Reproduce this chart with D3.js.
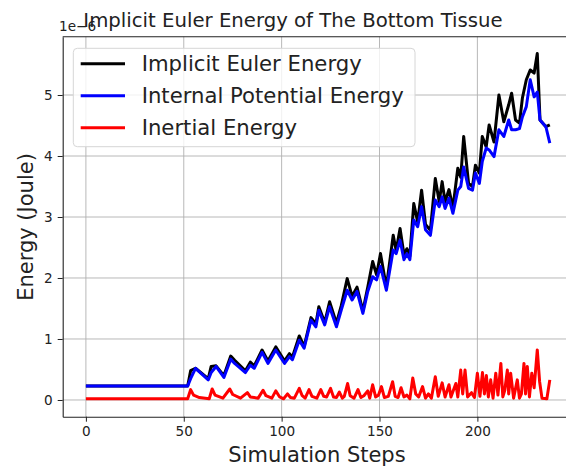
<!DOCTYPE html>
<html>
<head>
<meta charset="utf-8">
<script src="https://cdn.jsdelivr.net/npm/d3@7"></script>
<style>
body { margin: 0; background: #fff; }
svg { font-family: "DejaVu Sans", sans-serif; }
.grid line { stroke: #b0b0b0; stroke-width: 0.9; }
</style>
</head>
<body>
<svg width="566" height="466"></svg>
<script>
// values in units of 1e-6 Joule

// shared vertices for the implicit euler and internal potential curves
var steps = [0, 52, 53.5, 56, 62.5, 64, 66.5, 70.5, 74, 76, 81.5, 84, 86, 90, 93, 97, 101.5, 104, 105.5,
    109, 111.5, 115, 117.5, 119, 122, 124.5, 128, 130.5, 133.5, 136, 138.5, 141.5, 144, 146.5, 148.5,
    150.5, 153.5, 157, 158.5, 160.5, 162.5, 164, 165.5, 167.5, 169.5, 171.5, 173.5, 176, 178.5, 180.5,
    182, 183.5, 185.5, 187.5, 190, 191.5, 193, 195.5, 197.5, 199, 201, 202.5, 204.5, 206, 208.5, 211,
    213.5, 216, 217.5, 219.5, 221.5, 223, 225, 227, 229, 230.6, 232, 235, 237];

var implicitEuler = [0.23, 0.23, 0.48, 0.52, 0.35, 0.55, 0.56, 0.40, 0.72, 0.65, 0.48, 0.62, 0.56, 0.82,
    0.64, 0.87, 0.64, 0.76, 0.70, 1.05, 0.88, 1.35, 1.25, 1.53, 1.27, 1.61, 1.26, 1.55, 1.99, 1.70, 1.85,
    1.46, 1.85, 2.27, 2.05, 2.40, 1.85, 2.70, 2.45, 2.81, 2.38, 2.48, 2.36, 3.22, 2.92, 3.44, 2.88, 2.78,
    3.63, 3.25, 3.58, 3.25, 3.45, 3.15, 3.80, 3.65, 4.32, 3.55, 3.50, 3.85, 3.72, 4.32, 4.15, 4.51, 4.23,
    5.00, 4.56, 4.84, 5.03, 4.59, 4.54, 4.95, 5.25, 5.41, 5.36, 5.68, 4.59, 4.48, 4.51];

var internalPotential = [0.23, 0.23, 0.35, 0.52, 0.33, 0.45, 0.55, 0.37, 0.67, 0.60, 0.45, 0.57, 0.52, 0.78,
    0.60, 0.82, 0.60, 0.71, 0.66, 0.98, 0.85, 1.31, 1.20, 1.47, 1.23, 1.53, 1.20, 1.48, 1.80, 1.64, 1.78,
    1.42, 1.78, 2.02, 1.97, 2.19, 1.80, 2.46, 2.40, 2.62, 2.30, 2.40, 2.30, 2.95, 2.84, 3.17, 2.79, 2.70,
    3.28, 3.17, 3.33, 3.14, 3.31, 3.06, 3.44, 3.50, 3.82, 3.47, 3.44, 3.72, 3.55, 3.91, 4.13, 4.10, 3.99,
    4.43, 4.32, 4.59, 4.43, 4.43, 4.45, 4.64, 4.81, 5.25, 4.97, 5.05, 4.59, 4.48, 4.21];

// inertial energy has its own vertices
var inertialSteps = [0, 52, 53.5, 55, 58, 63, 64.5, 66, 70, 73.5, 75, 79, 82.5, 84, 88, 90.5, 92, 95, 97,
    99, 101, 103, 104.5, 106.5, 109, 110.5, 112, 114, 115.5, 118, 120, 121.5, 123, 125, 126.5, 128,
    129.5, 131, 132, 133.7, 135, 137, 139, 140.5, 142, 144, 145, 146.5, 148, 149.5, 151, 152.5, 154.5,
    156.7, 158, 159.5, 161, 162.5, 164, 165.5, 167, 168.5, 170, 172, 173.5, 175, 176.5, 178.5, 180, 182,
    183.5, 185.5, 186.5, 189, 190, 191.5, 192.5, 193.7, 195, 197, 198.5, 200, 201.3, 202.6, 203.6, 204.6,
    205.6, 206.8, 208, 209.4, 210.5, 212, 213, 214, 215.3, 216, 217, 218.5, 220.4, 221.5, 222.5, 223.8,
    224.6, 225.5, 226.6, 227.8, 229, 230.6, 231.8, 233, 235.5, 237];

var inertial = [0.02, 0.02, 0.17, 0.08, 0.04, 0.02, 0.18, 0.08, 0.03, 0.18, 0.09, 0.03, 0.12, 0.05, 0.03,
    0.16, 0.07, 0.03, 0.15, 0.05, 0.02, 0.10, 0.04, 0.03, 0.19, 0.07, 0.03, 0.17, 0.06, 0.03, 0.17, 0.06,
    0.05, 0.19, 0.05, 0.04, 0.13, 0.03, 0.06, 0.27, 0.07, 0.03, 0.17, 0.04, 0.07, 0.15, 0.03, 0.25, 0.05,
    0.08, 0.22, 0.04, 0.06, 0.30, 0.06, 0.04, 0.20, 0.05, 0.08, 0.02, 0.36, 0.10, 0.05, 0.22, 0.03, 0.10,
    0.03, 0.38, 0.06, 0.28, 0.05, 0.25, 0.05, 0.27, 0.05, 0.49, 0.10, 0.49, 0.05, 0.12, 0.04, 0.44, 0.06,
    0.45, 0.10, 0.40, 0.05, 0.33, 0.03, 0.44, 0.08, 0.60, 0.05, 0.16, 0.49, 0.10, 0.44, 0.03, 0.33, 0.03,
    0.10, 0.60, 0.10, 0.55, 0.05, 0.44, 0.20, 0.82, 0.30, 0.03, 0.02, 0.33];

var xTicks = [0, 50, 100, 150, 200];
var yTicks = [0, 1, 2, 3, 4, 5];
var seriesNames = ["Implicit Euler Energy", "Internal Potential Energy", "Inertial Energy"];
var seriesColors = ["#000000", "#0000ff", "#ff0000"];

var svg = d3.select("svg");
// plot box (right spine falls outside the 566px window, as in the reference)
var plotLeft = 62.7, plotRight = 573, plotTop = 36.7, plotBottom = 416.7;

var x = d3.scaleLinear().domain([-11.85, 248.85]).range([plotLeft, plotRight]);
var y = d3.scaleLinear().domain([-0.274, 5.956]).range([plotBottom, plotTop]);

// grid
var grid = svg.append("g").attr("class", "grid");
grid.selectAll(".gx").data(xTicks).enter().append("line")
    .attr("x1", function(d) { return x(d); }).attr("x2", function(d) { return x(d); })
    .attr("y1", plotTop).attr("y2", plotBottom);
grid.selectAll(".gy").data(yTicks).enter().append("line")
    .attr("x1", plotLeft).attr("x2", plotRight)
    .attr("y1", function(d) { return y(d); }).attr("y2", function(d) { return y(d); });

// lines
var plot = svg.append("g");
function drawLine(xs, ys, color) {
    var pts = xs.map(function(s, i) { return [s, ys[i]]; });
    plot.append("path")
        .datum(pts)
        .attr("fill", "none")
        .attr("stroke", color)
        .attr("stroke-width", 3)
        .attr("stroke-linejoin", "round")
        .attr("d", d3.line().x(function(d) { return x(d[0]); }).y(function(d) { return y(d[1]); }));
}
drawLine(steps, implicitEuler, seriesColors[0]);
drawLine(steps, internalPotential, seriesColors[1]);
drawLine(inertialSteps, inertial, seriesColors[2]);

// axes
var xAxis = svg.append("g")
    .attr("transform", "translate(0," + plotBottom + ")")
    .call(d3.axisBottom(x).tickValues(xTicks).tickFormat(d3.format("d"))
        .tickSize(5).tickSizeOuter(0).tickPadding(5));
var yAxis = svg.append("g")
    .attr("transform", "translate(" + plotLeft + ",0)")
    .call(d3.axisLeft(y).tickValues(yTicks).tickFormat(d3.format("d"))
        .tickSize(5).tickSizeOuter(0).tickPadding(5));
[xAxis, yAxis].forEach(function(a) {
    a.select(".domain").attr("stroke", "#222").attr("stroke-width", 1.1);
    a.selectAll(".tick line").attr("stroke", "#222");
    a.selectAll(".tick text").attr("font-size", 13.6).attr("fill", "#222")
        .attr("font-family", "DejaVu Sans");
});
// top spine
svg.append("line").attr("x1", plotLeft).attr("x2", plotRight).attr("y1", plotTop).attr("y2", plotTop)
    .attr("stroke", "#222").attr("stroke-width", 1.1);

// offset text
svg.append("text").attr("x", 59).attr("y", 31).attr("font-size", 13.6).attr("fill", "#222")
    .text("1e\u22126");

// title and labels
svg.append("text").attr("x", 293).attr("y", 27).attr("text-anchor", "middle")
    .attr("font-size", 19.7).attr("fill", "#222")
    .text("Implicit Euler Energy of The Bottom Tissue");
svg.append("text").attr("x", 317).attr("y", 462).attr("text-anchor", "middle")
    .attr("font-size", 21).attr("fill", "#222").text("Simulation Steps");
svg.append("text").attr("transform", "translate(33,227) rotate(-90)").attr("text-anchor", "middle")
    .attr("font-size", 21).attr("fill", "#222").text("Energy (Joule)");

// legend
var legend = svg.append("g");
legend.append("rect").attr("x", 73.3).attr("y", 48.3).attr("width", 341.7).attr("height", 98.4)
    .attr("rx", 4).attr("fill", "#fff").attr("fill-opacity", 0.8)
    .attr("stroke", "#d6d6d6").attr("stroke-width", 1);
seriesNames.forEach(function(name, i) {
    var ry = 63.8 + i * 32;
    legend.append("line").attr("x1", 80.7).attr("x2", 125).attr("y1", ry).attr("y2", ry)
        .attr("stroke", seriesColors[i]).attr("stroke-width", 3);
    legend.append("text").attr("x", 141.7).attr("y", ry + 7.5).attr("font-size", 21.2)
        .attr("fill", "#222").text(name);
});
</script>
</body>
</html>
